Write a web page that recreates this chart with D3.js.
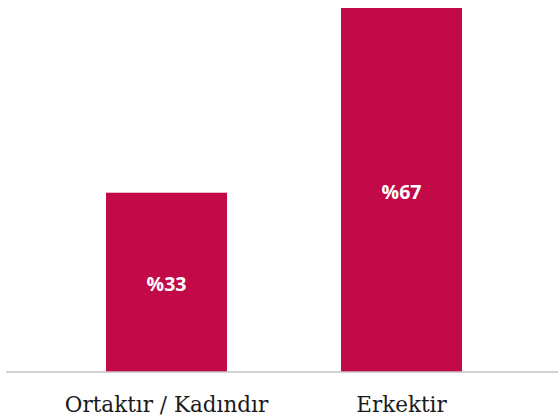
<!DOCTYPE html>
<html>
<head>
<meta charset="utf-8">
<script src="https://cdn.jsdelivr.net/npm/d3@7"></script>
<style>
  body { margin: 0; background: #fff; }
</style>
</head>
<body>
<svg id="chart" width="558" height="418"></svg>
<script>
const categories = ["Ortaktır / Kadındır", "Erkektir"];
const values = [33, 67];
const valueLabels = ["%33", "%67"];

const svg = d3.select("#chart");
const baseY = 372;

const x = d3.scaleBand()
  .domain(categories)
  .range([49, 519])
  .paddingInner(0.485)
  .paddingOuter(0.2425);

const y = d3.scaleLinear()
  .domain([0, 67])
  .range([baseY, 8]);

const data = categories.map((c, i) => ({cat: c, val: values[i], label: valueLabels[i]}));

svg.selectAll("rect.bar")
  .data(data)
  .join("rect")
  .attr("class", "bar")
  .attr("x", d => x(d.cat))
  .attr("y", d => y(d.val))
  .attr("width", x.bandwidth())
  .attr("height", d => baseY - y(d.val))
  .attr("fill", "#c20a48");

// baseline
svg.append("line")
  .attr("x1", 6).attr("x2", 558)
  .attr("y1", baseY).attr("y2", baseY)
  .attr("stroke", "#c4c4c4")
  .attr("stroke-width", 1.5);

// value labels inside bars
svg.selectAll("text.val")
  .data(data)
  .join("text")
  .attr("class", "val")
  .attr("x", d => x(d.cat) + x.bandwidth() / 2)
  .attr("y", d => (y(d.val) + baseY) / 2 + 2)
  .attr("dy", "0.35em")
  .attr("text-anchor", "middle")
  .attr("fill", "#fff")
  .style("font-family", "'Open Sans', sans-serif")
  .style("font-weight", "bold")
  .style("font-size", "19.5px")
  .text(d => d.label);

// category labels
svg.selectAll("text.cat")
  .data(data)
  .join("text")
  .attr("class", "cat")
  .attr("x", d => x(d.cat) + x.bandwidth() / 2)
  .attr("y", 412)
  .attr("text-anchor", "middle")
  .attr("fill", "#1a1a1a")
  .style("font-family", "'DejaVu Serif', serif")
  .style("font-size", "21.5px")
  .text(d => d.cat);
</script>
</body>
</html>
